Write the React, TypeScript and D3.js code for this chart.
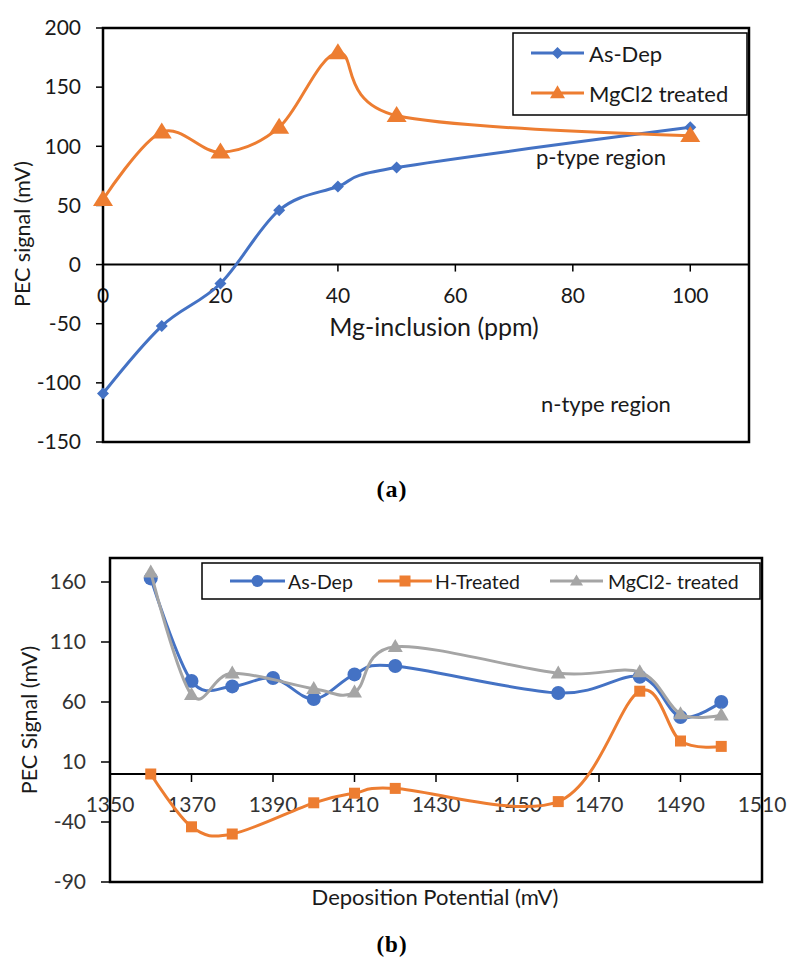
import React from "react";
import * as d3 from "d3";

// ---------- Chart (a) data ----------
const mgPpm = [0, 10, 20, 30, 40, 50, 100];
const asDepA = [-109, -52, -16, 46, 66, 82, 116];
const mgcl2A = [55, 112, 95, 116, 179, 126, 109];
const yTicksA = [-150, -100, -50, 0, 50, 100, 150, 200];
const xTicksA = [0, 20, 40, 60, 80, 100];

// ---------- Chart (b) data ----------
const asDepBX = [1360, 1370, 1380, 1390, 1400, 1410, 1420, 1460, 1480, 1490, 1500];
const asDepBY = [163, 77.5, 73, 80, 62.5, 83, 90, 67.5, 81, 47.5, 60];
const hTreatX = [1360, 1370, 1380, 1400, 1410, 1420, 1460, 1480, 1490, 1500];
const hTreatY = [0, -44, -50, -24, -16, -12, -23, 69, 27.5, 23];
const mgcl2BX = [1360, 1370, 1380, 1400, 1410, 1420, 1460, 1480, 1490, 1500];
const mgcl2BY = [168, 66, 84, 71, 68, 106, 84, 85, 50, 49];
const yTicksB = [-90, -40, 10, 60, 110, 160];
const xTicksB = [1350, 1370, 1390, 1410, 1430, 1450, 1470, 1490, 1510];

const BLUE = "#4472C4";
const ORANGE = "#ED7D31";
const GRAY = "#A5A5A5";
const FONT = "Lato, 'Open Sans', sans-serif";
const TXT = "#1a1a1a";

type P = [number, number];

const diamond = (x: number, y: number, r: number) =>
  `M${x},${y - r}L${x + r},${y}L${x},${y + r}L${x - r},${y}Z`;
const triangle = (x: number, y: number, w: number, h: number) =>
  `M${x},${y - h * 0.6}L${x + w / 2},${y + h * 0.4}L${x - w / 2},${y + h * 0.4}Z`;

const lineGen = d3.line<P>().curve(d3.curveCardinal.tension(0));

function ChartA() {
  const L = 103, R = 749, T = 28, B = 442;
  const x = d3.scaleLinear().domain([0, 110]).range([L, R]);
  const y = d3.scaleLinear().domain([-150, 200]).range([B, T]);
  const ptsBlue: P[] = mgPpm.map((v, i) => [x(v), y(asDepA[i])]);
  const ptsOr: P[] = mgPpm.map((v, i) => [x(v), y(mgcl2A[i])]);
  return (
    <g>
      {yTicksA.map((t) => (
        <g key={t}>
          <line x1={L - 7} x2={L} y1={y(t)} y2={y(t)} stroke="#000" strokeWidth={1.5} />
          <text x={L - 22} y={y(t)} dy="0.35em" textAnchor="end" fontSize={21} fill={TXT}>{t}</text>
        </g>
      ))}
      <line x1={L} x2={R} y1={y(0)} y2={y(0)} stroke="#000" strokeWidth={2} />
      {xTicksA.map((t) => (
        <g key={t}>
          <line x1={x(t)} x2={x(t)} y1={y(0)} y2={y(0) + 7} stroke="#000" strokeWidth={1.5} />
          <text x={x(t)} y={y(0) + 31} dy="0.35em" textAnchor="middle" fontSize={21} fill={TXT}>{t}</text>
        </g>
      ))}
      <rect x={L} y={T} width={R - L} height={B - T} fill="none" stroke="#000" strokeWidth={2.5} />
      <path d={lineGen(ptsBlue) || ""} fill="none" stroke={BLUE} strokeWidth={3} />
      {ptsBlue.map((p, i) => <path key={i} d={diamond(p[0], p[1], 6)} fill={BLUE} />)}
      <path d={lineGen(ptsOr) || ""} fill="none" stroke={ORANGE} strokeWidth={3} />
      {ptsOr.map((p, i) => <path key={i} d={triangle(p[0], p[1], 20, 16)} fill={ORANGE} />)}
      <text x={434} y={327} dy="0.35em" textAnchor="middle" fontSize={25} fill={TXT}>Mg-inclusion (ppm)</text>
      <text transform={`translate(22,${234}) rotate(-90)`} dy="0.35em" textAnchor="middle" fontSize={21.5} fill={TXT}>PEC signal (mV)</text>
      <text x={536} y={157} dy="0.35em" fontSize={22} fill={TXT}>p-type region</text>
      <text x={541} y={404} dy="0.35em" fontSize={22} fill={TXT}>n-type region</text>
      {/* legend */}
      <rect x={513} y={33} width={234} height={82} fill="#fff" stroke="#000" strokeWidth={1.5} />
      <line x1={531} x2={584} y1={53} y2={53} stroke={BLUE} strokeWidth={3} />
      <path d={diamond(557.5, 53, 6)} fill={BLUE} />
      <text x={589} y={54} dy="0.35em" fontSize={22} fill={TXT}>As-Dep</text>
      <line x1={531} x2={584} y1={93} y2={93} stroke={ORANGE} strokeWidth={3} />
      <path d={triangle(557.5, 93, 15, 13)} fill={ORANGE} />
      <text x={589} y={94} dy="0.35em" fontSize={22} fill={TXT}>MgCl2 treated</text>
      <text x={392} y={489} dy="0.35em" textAnchor="middle" fontSize={24} fontWeight="bold" letterSpacing={1} fontFamily="'Liberation Serif', serif" fill="#000">
        (a)
      </text>
    </g>
  );
}

function ChartB() {
  const L = 110, R = 762, T = 558, B = 882;
  const x = d3.scaleLinear().domain([1350, 1510]).range([L, R]);
  const y = d3.scaleLinear().domain([-90, 180]).range([B, T]);
  const ptsBlue: P[] = asDepBX.map((v, i) => [x(v), y(asDepBY[i])]);
  const ptsOr: P[] = hTreatX.map((v, i) => [x(v), y(hTreatY[i])]);
  const ptsGr: P[] = mgcl2BX.map((v, i) => [x(v), y(mgcl2BY[i])]);
  return (
    <g>
      {yTicksB.map((t) => (
        <g key={t}>
          <line x1={L - 9} x2={L} y1={y(t)} y2={y(t)} stroke="#000" strokeWidth={1.5} />
          <text x={L - 24} y={y(t)} dy="0.35em" textAnchor="end" fontSize={21} fill="#333">{t}</text>
        </g>
      ))}
      <line x1={L} x2={R} y1={y(0)} y2={y(0)} stroke="#000" strokeWidth={2} />
      {xTicksB.map((t) => (
        <g key={t}>
          <line x1={x(t)} x2={x(t)} y1={y(0)} y2={y(0) + 8} stroke="#000" strokeWidth={1.5} />
          <text x={x(t)} y={y(0) + 31} dy="0.35em" textAnchor="middle" fontSize={21} fill="#333">{t}</text>
        </g>
      ))}
      <rect x={L} y={T} width={R - L} height={B - T} fill="none" stroke="#000" strokeWidth={2.5} />
      <path d={lineGen(ptsBlue) || ""} fill="none" stroke={BLUE} strokeWidth={3} />
      {ptsBlue.map((p, i) => <circle key={i} cx={p[0]} cy={p[1]} r={7} fill={BLUE} />)}
      <path d={lineGen(ptsOr) || ""} fill="none" stroke={ORANGE} strokeWidth={3} />
      {ptsOr.map((p, i) => <rect key={i} x={p[0] - 5.5} y={p[1] - 5.5} width={11} height={11} fill={ORANGE} />)}
      <path d={lineGen(ptsGr) || ""} fill="none" stroke={GRAY} strokeWidth={3} />
      {ptsGr.map((p, i) => <path key={i} d={triangle(p[0], p[1], 15, 13)} fill={GRAY} />)}
      {/* legend */}
      <rect x={202} y={563} width={558} height={36} fill="#fff" stroke="#000" strokeWidth={1.5} />
      <line x1={230} x2={285} y1={581} y2={581} stroke={BLUE} strokeWidth={3} />
      <circle cx={257.5} cy={581} r={6} fill={BLUE} />
      <text x={288} y={582} dy="0.35em" fontSize={19.5} fill={TXT}>As-Dep</text>
      <line x1={378} x2={432} y1={581} y2={581} stroke={ORANGE} strokeWidth={3} />
      <rect x={399.5} y={575.5} width={11} height={11} fill={ORANGE} />
      <text x={435} y={582} dy="0.35em" fontSize={19.5} fill={TXT}>H-Treated</text>
      <line x1={550} x2={603} y1={581} y2={581} stroke={GRAY} strokeWidth={3} />
      <path d={triangle(576.5, 581, 13, 11)} fill={GRAY} />
      <text x={608} y={582} dy="0.35em" fontSize={19.5} fill={TXT}>MgCl2- treated</text>
      <text x={435} y={897} dy="0.35em" textAnchor="middle" fontSize={22} fill={TXT}>Deposition Potential (mV)</text>
      <text transform={`translate(29,720) rotate(-90)`} dy="0.35em" textAnchor="middle" fontSize={21.5} fill={TXT}>PEC Signal (mV)</text>
      <text x={392} y={944} dy="0.35em" textAnchor="middle" fontSize={23} fontWeight="bold" letterSpacing={1} fontFamily="'Liberation Serif', serif" fill="#000">
        (b)
      </text>
    </g>
  );
}

export default function App() {
  return (
    <svg
      width={788}
      height={958}
      style={{ position: "absolute", left: 0, top: 0, background: "#fff" }}
      fontFamily={FONT}
    >
      <rect width={788} height={958} fill="#fff" />
      <ChartA />
      <ChartB />
    </svg>
  );
}
